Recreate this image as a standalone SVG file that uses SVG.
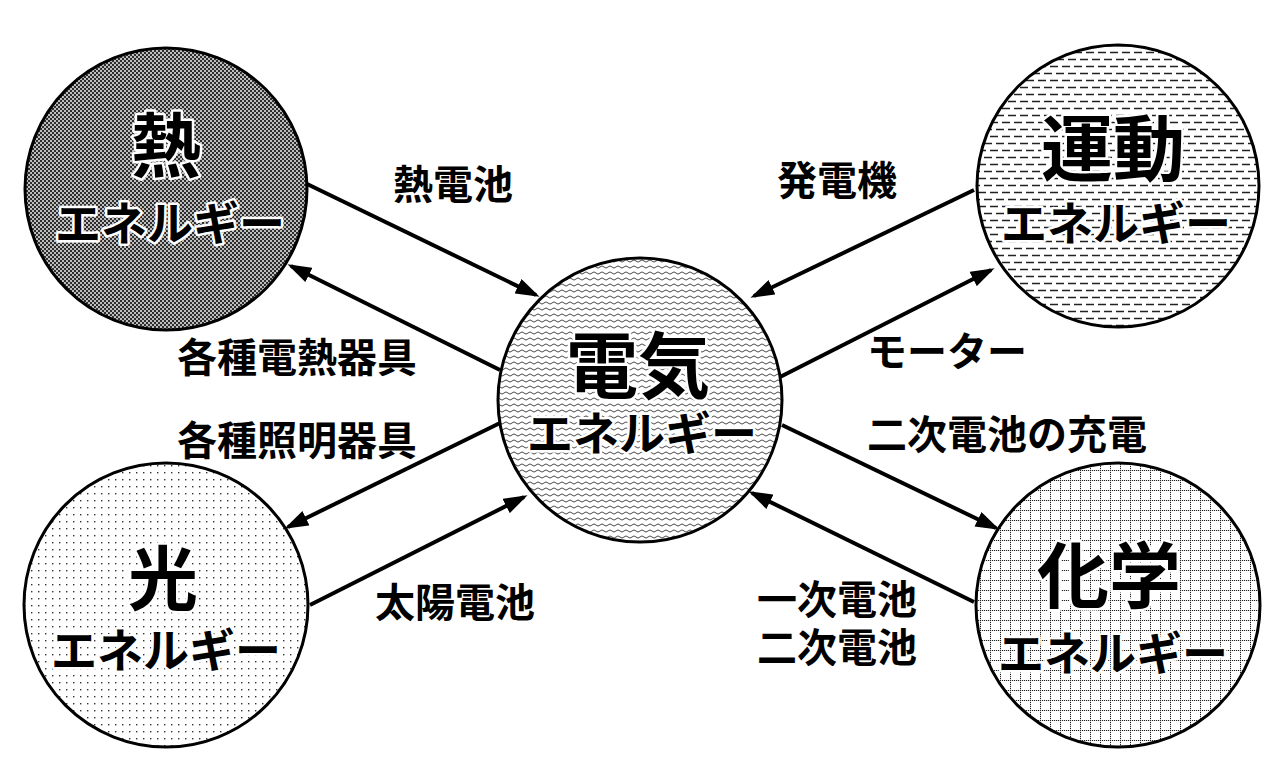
<svg xmlns="http://www.w3.org/2000/svg" width="1280" height="768" viewBox="0 0 1280 768">
<defs>
<pattern id="pHeat" width="4" height="4" patternUnits="userSpaceOnUse">
<rect width="4" height="4" fill="#bdbdbd"/>
<rect x="0" y="0" width="2" height="2" fill="#2e2e2e"/>
<rect x="2" y="2" width="2" height="2" fill="#2e2e2e"/>
</pattern>
<pattern id="pElec" width="8" height="6" patternUnits="userSpaceOnUse">
<rect width="8" height="6" fill="#fff"/>
<path d="M0 3 Q2 0.8 4 3 T8 3" fill="none" stroke="#333" stroke-width="0.9"/>
</pattern>
<pattern id="pMotion" width="12" height="14" patternUnits="userSpaceOnUse">
<rect width="12" height="14" fill="#fff"/>
<path d="M0 3.5 H8 M6 10.5 H12 M0 10.5 H2" stroke="#222" stroke-width="1.3"/>
</pattern>
<pattern id="pLight" width="7" height="7" patternUnits="userSpaceOnUse">
<rect width="7" height="7" fill="#fff"/>
<rect x="3" y="3" width="1.4" height="1.4" fill="#333"/>
</pattern>
<pattern id="pChem" width="10" height="10" patternUnits="userSpaceOnUse">
<rect width="10" height="10" fill="#fff"/>
<path d="M0 0.5 H10 M0.5 0 V10" stroke="#222" stroke-width="1" stroke-dasharray="1.2 0.8"/>
</pattern>
<marker id="ah" viewBox="0 0 12 8" refX="10" refY="4" markerWidth="6" markerHeight="4" orient="auto" markerUnits="strokeWidth">
<path d="M0 0 L12 4 L0 8 Z" fill="#000"/>
</marker>
</defs>
<style>
.c{stroke:#000;stroke-width:3}
.big{font-family:"Noto Sans CJK JP","Noto Sans",sans-serif;font-weight:bold;text-anchor:middle;fill:#000;stroke:#fff;stroke-width:5;paint-order:stroke;stroke-linejoin:round}
.k{font-size:70px}
.e{font-size:46px}
.lab{font-family:"Noto Sans CJK JP","Noto Sans",sans-serif;font-weight:bold;font-size:40px;fill:#000}
.a{stroke:#000;stroke-width:4;fill:none;marker-end:url(#ah)}
</style>
<rect width="1280" height="768" fill="#fff"/>
<g id="connectors">
<line class="a" x1="305" y1="183" x2="536" y2="295"/>
<line class="a" x1="500" y1="370" x2="291" y2="266"/>
<line class="a" x1="974" y1="190" x2="754" y2="296"/>
<line class="a" x1="780" y1="377" x2="991" y2="270"/>
<line class="a" x1="500" y1="423" x2="288" y2="527"/>
<line class="a" x1="310" y1="605" x2="524" y2="497"/>
<line class="a" x1="782" y1="425" x2="996" y2="528"/>
<line class="a" x1="974" y1="602" x2="752" y2="493"/>
</g>
<g id="labels">
<text class="lab" x="393" y="199">熱電池</text>
<text class="lab" x="777" y="195">発電機</text>
<text class="lab" x="177" y="372">各種電熱器具</text>
<text class="lab" x="867" y="366">モーター</text>
<text class="lab" x="177" y="455">各種照明器具</text>
<text class="lab" x="867" y="449">二次電池の充電</text>
<text class="lab" x="375" y="617">太陽電池</text>
<text class="lab" x="757" y="614">一次電池</text>
<text class="lab" x="757" y="662">二次電池</text>
</g>
<g id="heat">
<circle class="c" cx="166" cy="189" r="141" fill="url(#pHeat)"/>
<text class="big k" x="166" y="172">熱</text>
<text class="big e" x="170" y="240">エネルギー</text>
</g>
<g id="electric">
<circle class="c" cx="640" cy="400" r="142" fill="url(#pElec)"/>
<text class="big k" x="638" y="392" style="font-size:72px">電気</text>
<text class="big e" x="642" y="450">エネルギー</text>
</g>
<g id="motion">
<circle class="c" cx="1118" cy="186" r="141" fill="url(#pMotion)"/>
<text class="big k" x="1113" y="175" style="font-size:72px">運動</text>
<text class="big e" x="1116" y="240">エネルギー</text>
</g>
<g id="light">
<circle class="c" cx="166" cy="605" r="142" fill="url(#pLight)"/>
<text class="big k" x="163" y="605">光</text>
<text class="big e" x="166" y="667">エネルギー</text>
</g>
<g id="chemical">
<circle class="c" cx="1118" cy="605" r="142" fill="url(#pChem)"/>
<text class="big k" x="1109" y="602" style="font-size:72px">化学</text>
<text class="big e" x="1113" y="670">エネルギー</text>
</g>
</svg>
